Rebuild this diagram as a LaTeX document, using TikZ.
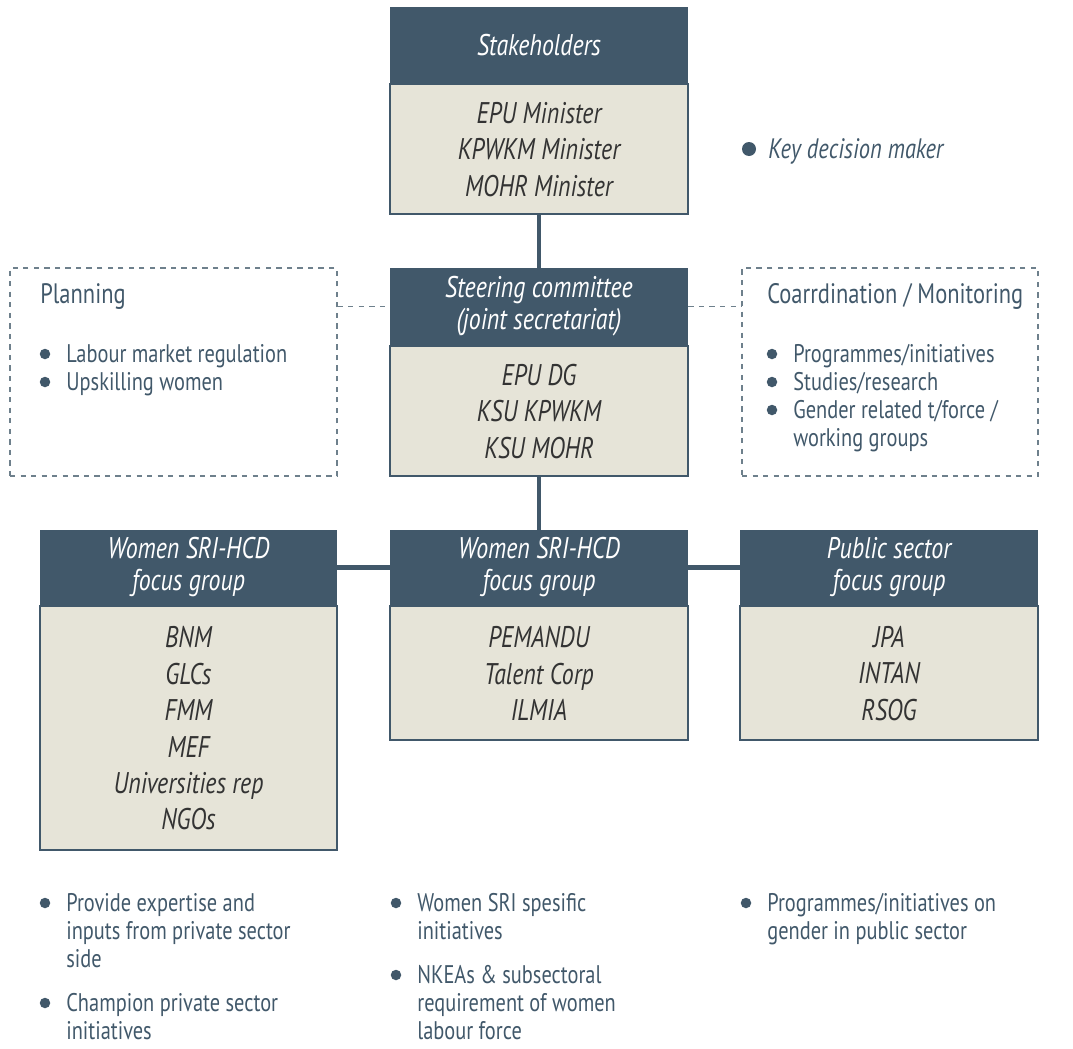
\documentclass[tikz,border=0pt]{standalone}
\usepackage{fontspec}
\setmainfont{PT Sans}[FakeStretch=0.8]
\usetikzlibrary{positioning}
\definecolor{slate}{HTML}{41586A}
\definecolor{paper}{HTML}{E6E4D8}
\definecolor{ink}{HTML}{333333}
\definecolor{rule}{HTML}{6E808C}
\tikzset{
  head/.style={fill=slate, text=white, inner sep=0pt, align=center, font=\itshape\fontsize{17}{18.2}\selectfont},
  body/.style={fill=paper, draw=slate, line width=1.2pt, text=ink, inner sep=0pt, align=center, font=\itshape\fontsize{17}{20.7}\selectfont},
  link/.style={draw=slate, line width=2.8pt},
  frame/.style={draw=rule, dashed, line width=0.7pt, inner sep=0pt},
  dashlink/.style={draw=rule, dashed, line width=0.7pt},
  dot/.style={circle, fill=slate, inner sep=0pt, minimum size=2.1mm},
  note/.style={text=slate, inner sep=0pt, align=left, font=\fontsize{14.5}{15.9}\selectfont},
  title/.style={note, font=\fontsize{16}{18}\selectfont},
}

\begin{document}
\begin{tikzpicture}[x=0.2mm, y=-0.2mm]
  \useasboundingbox (0,0) rectangle (1073,1049);

  % top of the chain
  \node[head, minimum width=59.6mm, minimum height=15.2mm] (sh) at (539,45) {Stakeholders};
  \node[body, minimum width=59.6mm, minimum height=26mm, below=0pt of sh] (shb)
    {EPU Minister\\KPWKM Minister\\MOHR Minister};

  \node[head, minimum width=59.6mm, minimum height=15.4mm] (sc) at (539,306.5)
    {Steering committee\\(joint secretariat)};
  \node[body, minimum width=59.6mm, minimum height=26mm, below=0pt of sc] (scb)
    {EPU DG\\KSU KPWKM\\KSU MOHR};

  % focus groups
  \node[head, minimum width=59.4mm, minimum height=15mm] (wl) at (188.5,567.5)
    {Women SRI-HCD\\focus group};
  \node[body, minimum width=59.4mm, minimum height=48.8mm, below=0pt of wl] (wlb)
    {BNM\\GLCs\\FMM\\MEF\\Universities rep\\NGOs};
  \node[head, minimum width=59.6mm, minimum height=15mm] (wm) at (539,567.5)
    {Women SRI-HCD\\focus group};
  \node[body, minimum width=59.6mm, minimum height=26.8mm, below=0pt of wm] (wmb)
    {PEMANDU\\Talent Corp\\ILMIA};
  \node[head, minimum width=59.6mm, minimum height=15mm] (pub) at (889,567.5)
    {Public sector\\focus group};
  \node[body, minimum width=59.6mm, minimum height=26.8mm, below=0pt of pub] (pubb)
    {JPA\\INTAN\\RSOG};

  \draw[link] (shb.south) -- (sc.north);
  \draw[link] (scb.south) -- (wm.north);
  \draw[link] (wl.east) -- (wm.west);
  \draw[link] (wm.east) -- (pub.west);

  % side boxes
  \node[frame, minimum width=65.4mm, minimum height=41.6mm] (plan) at (173.5,372) {};
  \node[frame, minimum width=59.2mm, minimum height=41.6mm] (coord) at (890,372) {};
  \draw[dashlink] (plan.east |- sc.west) -- (sc.west);
  \draw[dashlink] (sc.east) -- (coord.west |- sc.east);

  \node[title, anchor=base west] (plant) at (40,303) {Planning};
  \node[title, anchor=base west] (coordt) at (767,303) {Coarrdination / Monitoring};

  % legend
  \node[dot, minimum size=2.8mm] (key) at (749,149) {};
  \node[note, anchor=base west, font=\itshape\fontsize{16}{18}\selectfont] (keyt) at (768,158)
    {Key decision maker};

  % bullet lists (x/y of the dot, extra lines)
  \foreach \x/\y/\n/\t in {
      45/354/0/{Labour market regulation},
      45/382/0/{Upskilling women},
      772/354/0/{Programmes/initiatives},
      772/382/0/{Studies/research},
      772/410/1/{Gender related t/force /\\working groups},
      45/903/2/{Provide expertise and\\inputs from private sector\\side},
      45/1003/1/{Champion private sector\\initiatives},
      396/903/1/{Women SRI spesific\\initiatives},
      396/975/2/{NKEAs \& subsectoral\\requirement of women\\labour force},
      746/903/1/{Programmes/initiatives on\\gender in public sector}} {
    \node[dot] at (\x,\y) {};
    \node[note, anchor=base west] at (\x+21,\y+8+\n*28) {\t};
  }
\end{tikzpicture}
\end{document}
